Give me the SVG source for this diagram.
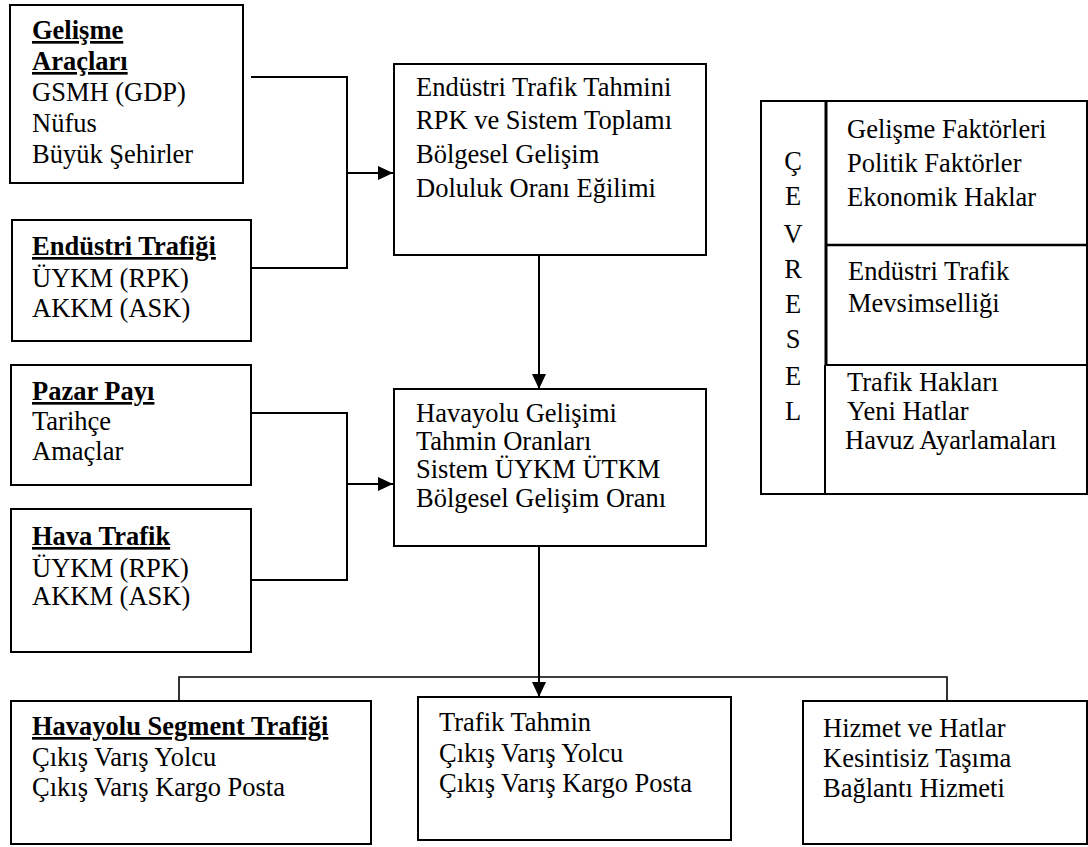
<svg xmlns="http://www.w3.org/2000/svg" width="1088" height="847" viewBox="0 0 1088 847" font-family="'Liberation Serif','Times New Roman',serif">
<defs>
<style>
text{font-family:"Liberation Serif","Times New Roman",serif;font-size:26.5px;fill:#000}
.b{font-weight:bold;text-decoration:underline}
.box{fill:#fff;stroke:#000;stroke-width:2}
.ln{fill:none;stroke:#000;stroke-width:2}
.c{text-anchor:middle}
</style>
<marker id="ah" markerWidth="15" markerHeight="14" refX="15" refY="7" orient="auto" markerUnits="userSpaceOnUse">
<path d="M0,0 L15,7 L0,14 Z" fill="#000"/>
</marker>
</defs>
<rect width="1088" height="847" fill="#fff"/>

<g id="connectors">
<polyline class="ln" points="251,77 347,77 347,268 251,268"/>
<line class="ln" x1="347" y1="173" x2="393" y2="173" marker-end="url(#ah)"/>
<line class="ln" x1="539" y1="255" x2="539" y2="389" marker-end="url(#ah)"/>
<polyline class="ln" points="251,413 347,413 347,580 251,580"/>
<line class="ln" x1="347" y1="484" x2="393" y2="484" marker-end="url(#ah)"/>
<line class="ln" x1="539" y1="546" x2="539" y2="697" marker-end="url(#ah)"/>
<polyline class="ln" points="179,701 179,677 947,677 947,701" style="stroke-width:1.6"/>
</g>

<g id="gelisme">
<rect class="box" x="10" y="5" width="233" height="178"/>
<text x="32" y="39" class="b">Gelişme</text>
<text x="32" y="70" class="b">Araçları</text>
<text x="32" y="101">GSMH (GDP)</text>
<text x="32" y="132">Nüfus</text>
<text x="32" y="163">Büyük Şehirler</text>
</g>

<g id="endustri-trafigi">
<rect class="box" x="12" y="220" width="239" height="121"/>
<text x="32" y="255" class="b">Endüstri Trafiği</text>
<text x="32" y="287">ÜYKM (RPK)</text>
<text x="32" y="317">AKKM (ASK)</text>
</g>

<g id="pazar-payi">
<rect class="box" x="11" y="365" width="240" height="120"/>
<text x="32" y="400" class="b">Pazar Payı</text>
<text x="32" y="430">Tarihçe</text>
<text x="32" y="460">Amaçlar</text>
</g>

<g id="hava-trafik">
<rect class="box" x="11" y="509" width="240" height="143"/>
<text x="32" y="545" class="b">Hava Trafik</text>
<text x="32" y="577">ÜYKM (RPK)</text>
<text x="32" y="605">AKKM (ASK)</text>
</g>

<g id="endustri-tahmin">
<rect class="box" x="394" y="64" width="312" height="191"/>
<text x="416" y="96">Endüstri Trafik Tahmini</text>
<text x="416" y="129">RPK ve Sistem Toplamı</text>
<text x="416" y="163">Bölgesel Gelişim</text>
<text x="416" y="197">Doluluk Oranı Eğilimi</text>
</g>

<g id="havayolu-gelisimi">
<rect class="box" x="394" y="389" width="312" height="157"/>
<text x="416" y="422">Havayolu Gelişimi</text>
<text x="416" y="450">Tahmin Oranları</text>
<text x="416" y="478">Sistem ÜYKM ÜTKM</text>
<text x="416" y="507">Bölgesel Gelişim Oranı</text>
</g>

<g id="cevresel">
<rect class="box" x="761" y="101" width="326" height="393"/>
<line x1="826" y1="101" x2="826" y2="365" stroke="#000" stroke-width="3"/>
<line x1="825" y1="365" x2="825" y2="494" stroke="#000" stroke-width="2"/>
<line x1="826" y1="245" x2="1087" y2="245" stroke="#000" stroke-width="2.5"/>
<line x1="825" y1="365" x2="1087" y2="365" stroke="#000" stroke-width="2"/>
<text x="793" y="170" class="c">Ç</text>
<text x="793" y="205" class="c">E</text>
<text x="793" y="243" class="c">V</text>
<text x="793" y="278" class="c">R</text>
<text x="793" y="313" class="c">E</text>
<text x="793" y="348" class="c">S</text>
<text x="793" y="385" class="c">E</text>
<text x="793" y="420" class="c">L</text>
<text x="847" y="138">Gelişme Faktörleri</text>
<text x="847" y="172">Politik Faktörler</text>
<text x="847" y="206">Ekonomik Haklar</text>
<text x="848" y="280">Endüstri Trafik</text>
<text x="848" y="312">Mevsimselliği</text>
<text x="847" y="391">Trafik Hakları</text>
<text x="847" y="420">Yeni Hatlar</text>
<text x="845" y="449">Havuz Ayarlamaları</text>
</g>

<g id="segment-trafigi">
<rect class="box" x="11" y="701" width="360" height="143"/>
<text x="32" y="735" class="b">Havayolu Segment Trafiği</text>
<text x="32" y="766">Çıkış Varış Yolcu</text>
<text x="32" y="796">Çıkış Varış Kargo Posta</text>
</g>

<g id="trafik-tahmin">
<rect class="box" x="418" y="697" width="313" height="143"/>
<text x="439" y="731">Trafik Tahmin</text>
<text x="439" y="762">Çıkış Varış Yolcu</text>
<text x="439" y="792">Çıkış Varış Kargo Posta</text>
</g>

<g id="hizmet-hatlar">
<rect class="box" x="803" y="701" width="284" height="143"/>
<text x="823" y="737">Hizmet ve Hatlar</text>
<text x="823" y="767">Kesintisiz Taşıma</text>
<text x="823" y="797">Bağlantı Hizmeti</text>
</g>
</svg>
